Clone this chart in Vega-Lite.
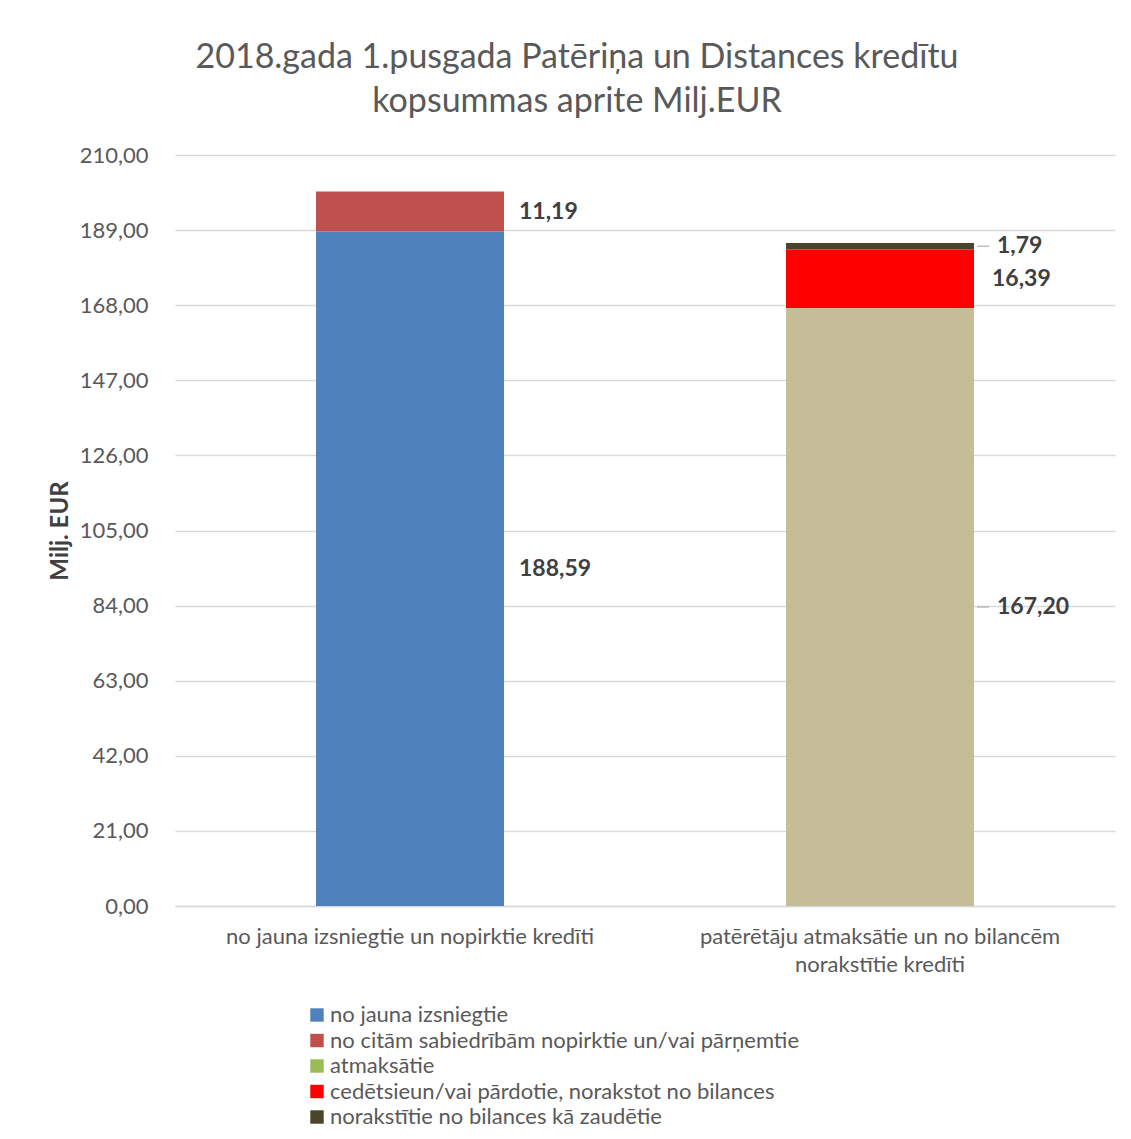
{
  "$schema": "https://vega.github.io/schema/vega-lite/v6.json",
  "autosize": {"type": "none"},
  "width": 940,
  "height": 751,
  "padding": {"left": 175, "top": 155, "right": 16, "bottom": 233},
  "background": "white",
  "config": {
    "font": "Lato",
    "view": {"stroke": null},
    "locale": {"number": {"decimal": ",", "thousands": " ", "grouping": [3], "currency": ["", " €"]}}
  },
  "title": {
    "text": ["2018.gada 1.pusgada Patēriņa un Distances kredītu", "kopsummas aprite Milj.EUR"],
    "fontSize": 34,
    "fontWeight": "normal",
    "font": "Lato",
    "color": "#595959",
    "anchor": "middle",
    "dx": -68,
    "offset": 25,
    "lineHeight": 44
  },
  "data": {
    "values": [
      {"bar": "no jauna izsniegtie un nopirktie kredīti", "category": "no jauna izsniegtie", "value": 188.59, "ord": 1},
      {"bar": "no jauna izsniegtie un nopirktie kredīti", "category": "no citām sabiedrībām nopirktie un/vai pārņemtie", "value": 11.19, "ord": 2},
      {"bar": "patērētāju atmaksātie un no bilancēm norakstītie kredīti", "category": "atmaksātie", "value": 167.20, "ord": 3},
      {"bar": "patērētāju atmaksātie un no bilancēm norakstītie kredīti", "category": "cedētsieun/vai pārdotie, norakstot no bilances", "value": 16.39, "ord": 4},
      {"bar": "patērētāju atmaksātie un no bilancēm norakstītie kredīti", "category": "norakstītie no bilances kā zaudētie", "value": 1.79, "ord": 5}
    ]
  },
  "transform": [
    {"stack": "value", "groupby": ["bar"], "sort": [{"field": "ord"}], "as": ["v0", "v1"]},
    {"calculate": "(datum.v0 + datum.v1) / 2", "as": "mid"}
  ],
  "layer": [
    {
      "mark": {"type": "bar"},
      "encoding": {
        "x": {
          "field": "bar", "type": "nominal", "sort": null,
          "scale": {"paddingInner": 0.6, "paddingOuter": 0.3},
          "axis": {
            "title": null, "labelAngle": 0, "ticks": false,
            "domainColor": "#d9d9d9", "domainWidth": 1.5,
            "labelFontSize": 22, "labelColor": "#595959", "labelPadding": 20,
            "labelLimit": 0, "labelLineHeight": 28, "labelFont": "Lato",
            "labelExpr": "datum.value == 'patērētāju atmaksātie un no bilancēm norakstītie kredīti' ? ['patērētāju atmaksātie un no bilancēm', 'norakstītie kredīti'] : datum.value"
          }
        },
        "y": {
          "field": "v0", "type": "quantitative",
          "scale": {"domain": [0, 210], "nice": false},
          "axis": {
            "values": [0, 21, 42, 63, 84, 105, 126, 147, 168, 189, 210],
            "format": ".2f",
            "domain": false, "ticks": false,
            "gridColor": "#d9d9d9", "gridWidth": 1.5,
            "labelFontSize": 22, "labelColor": "#595959", "labelPadding": 27, "labelFont": "Lato",
            "title": "Milj. EUR", "titleFontSize": 24, "titleFontWeight": "bold",
            "titleColor": "#404040", "titlePadding": 7, "titleFont": "Lato"
          }
        },
        "y2": {"field": "v1"},
        "color": {
          "condition": {"test": "datum.category === 'atmaksātie'", "value": "#C4BD97"},
          "field": "category", "type": "nominal",
          "scale": {
            "domain": ["no jauna izsniegtie", "no citām sabiedrībām nopirktie un/vai pārņemtie", "atmaksātie", "cedētsieun/vai pārdotie, norakstot no bilances", "norakstītie no bilances kā zaudētie"],
            "range": ["#4F81BD", "#C0504D", "#9BBB59", "#FF0000", "#4A452A"]
          },
          "legend": {
            "orient": "none", "legendX": 131, "legendY": 849,
            "direction": "vertical", "title": null,
            "symbolType": "square", "symbolSize": 180, "symbolStrokeWidth": 0,
            "labelFontSize": 22, "labelColor": "#595959", "labelFont": "Lato",
            "labelOffset": 2, "rowPadding": 3.5, "labelLimit": 0
          }
        },
        "order": {"field": "ord"}
      }
    },
    {
      "transform": [{"filter": "datum.ord == 1 || datum.ord == 2"}],
      "mark": {"type": "text", "align": "left", "baseline": "middle", "dx": 15, "fontWeight": "bold", "fontSize": 23, "color": "#404040", "font": "Lato"},
      "encoding": {
        "x": {"field": "bar", "type": "nominal", "sort": null, "bandPosition": 1},
        "y": {"field": "mid", "type": "quantitative"},
        "text": {"field": "value", "type": "quantitative", "format": ".2f"}
      }
    },
    {
      "transform": [{"filter": "datum.ord == 4"}],
      "mark": {"type": "text", "align": "left", "baseline": "middle", "dx": 18, "fontWeight": "bold", "fontSize": 23, "color": "#404040", "font": "Lato"},
      "encoding": {
        "x": {"field": "bar", "type": "nominal", "sort": null, "bandPosition": 1},
        "y": {"field": "mid", "type": "quantitative"},
        "text": {"field": "value", "type": "quantitative", "format": ".2f"}
      }
    },
    {
      "transform": [{"filter": "datum.ord == 3 || datum.ord == 5"}],
      "mark": {"type": "text", "align": "left", "baseline": "middle", "dx": 23, "fontWeight": "bold", "fontSize": 23, "color": "#404040", "font": "Lato"},
      "encoding": {
        "x": {"field": "bar", "type": "nominal", "sort": null, "bandPosition": 1},
        "y": {"field": "mid", "type": "quantitative"},
        "text": {"field": "value", "type": "quantitative", "format": ".2f"}
      }
    },
    {
      "transform": [{"filter": "datum.ord == 3 || datum.ord == 5"}],
      "mark": {"type": "tick", "orient": "horizontal", "size": 12, "thickness": 1.5, "color": "#a6a6a6", "xOffset": 103},
      "encoding": {
        "x": {"field": "bar", "type": "nominal", "sort": null},
        "y": {"field": "mid", "type": "quantitative"}
      }
    }
  ]
}
